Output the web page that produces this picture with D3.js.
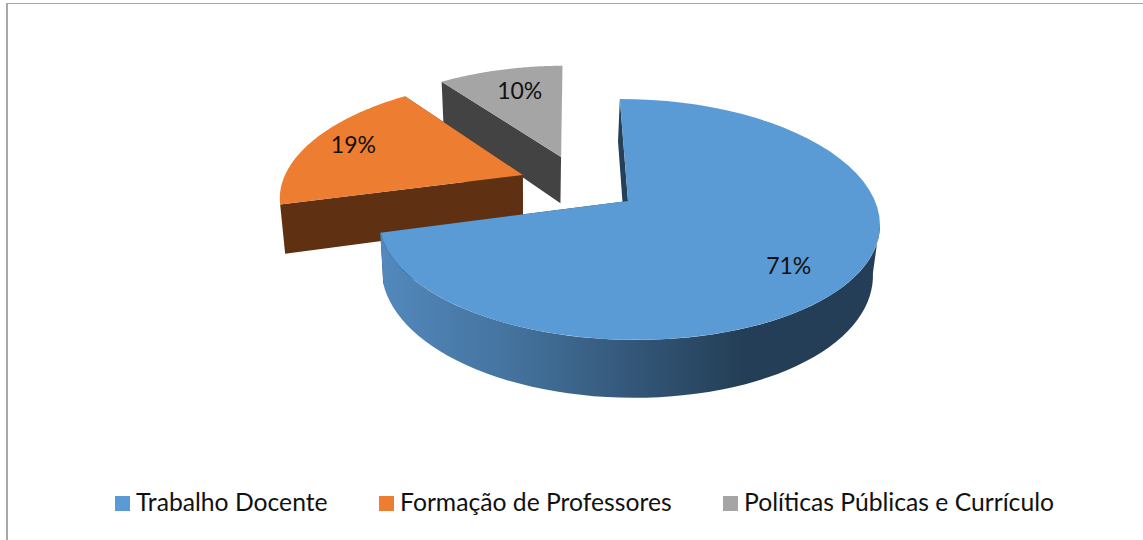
<!DOCTYPE html>
<html>
<head>
<meta charset="utf-8">
<script src="https://cdnjs.cloudflare.com/ajax/libs/d3/7.8.5/d3.min.js"></script>
<style>
  html, body { margin: 0; padding: 0; background: #fff; }
  svg { display: block; }
  text { font-family: Lato, "Open Sans", sans-serif; fill: #111; }
</style>
</head>
<body>
<svg id="chart" width="1143" height="540"></svg>
<script>
const categories = ["Trabalho Docente", "Formação de Professores", "Políticas Públicas e Currículo"];
const shares = [71, 19, 10];
const topColors = ["#5b9bd5", "#ed7d31", "#a5a5a5"];
const wallColors = ["#254058", "#5f3112", "#434343"];

const width = 1143;
const height = 540;

let svg = d3.select("svg#chart");

/* FRAME */

svg.append("rect").attr("x", 6).attr("y", 3).attr("width", 2).attr("height", height - 3).style("fill", "#a8a8a8");
svg.append("rect").attr("x", 6).attr("y", 3).attr("width", width - 6).attr("height", 1).style("fill", "#a8a8a8");

/* PIE GEOMETRY */

// perspective of the disc plane
const center = { x: 628, y: 201 };
const radiusX = 247;
const radiusY = 117.6;
const tiltX = 0.17;
const tiltY = 0.1535;
const shear = 7;
const depth = 49;
const vanishX = 530;
const shrink = 0.98;

// how far each slice is pulled out, in disc units
const pulled = [[0, 0], [-0.436, -0.229], [-0.278, -0.397]];

const startAngle = -0.01;
const pie = d3.pie().sort(null).startAngle(startAngle).endAngle(startAngle + 2 * Math.PI);
const arcs = pie(shares);

function project(u, v, z) {
  const fy = 1 / (1 - tiltY * v);
  let x = center.x + radiusX * u / (1 - tiltX * v) + shear * v * fy;
  const y = center.y + radiusY * v * fy + depth * z * fy;
  x = vanishX + (x - vanishX) * (1 - (1 - shrink) * z);
  return [x, y];
}

function rimPoint(a, i, z) {
  return project(pulled[i][0] + Math.sin(a), pulled[i][1] - Math.cos(a), z);
}

function apexPoint(i, z) {
  return project(pulled[i][0], pulled[i][1], z);
}

function rimPoints(a0, a1, i, z) {
  return d3.range(0, 61).map(k => rimPoint(a0 + (a1 - a0) * k / 60, i, z));
}

const line = d3.line();

/* GRADIENT FOR THE BLUE SIDE */

const grad = svg.append("defs").append("linearGradient")
  .attr("id", "blueSide")
  .attr("gradientUnits", "userSpaceOnUse")
  .attr("x1", 384).attr("x2", 745)
  .attr("y1", 0).attr("y2", 0);
grad.append("stop").attr("offset", 0).attr("stop-color", "#5288bc");
grad.append("stop").attr("offset", 0.35).attr("stop-color", "#44739e");
grad.append("stop").attr("offset", 0.7).attr("stop-color", "#335677");
grad.append("stop").attr("offset", 1).attr("stop-color", "#233e56");

/* SLICES, BACK TO FRONT */

const plot = svg.append("g").attr("id", "plot");

function drawSlice(i) {
  const d = arcs[i];
  const g = plot.append("g");

  // wall on the start side (seen on grey's right edge and blue's inner edge)
  g.append("path")
    .attr("d", line([rimPoint(d.startAngle, i, 0), apexPoint(i, 0), apexPoint(i, 1), rimPoint(d.startAngle, i, 1)]) + "Z")
    .style("fill", wallColors[i]);

  // wall on the end side
  g.append("path")
    .attr("d", line([rimPoint(d.endAngle, i, 0), apexPoint(i, 0), apexPoint(i, 1), rimPoint(d.endAngle, i, 1)]) + "Z")
    .style("fill", wallColors[i]);

  // outer side, only the blue slice shows it, from its rightmost point round
  if (i === 0) {
    const a0 = 1.75;
    const outer = rimPoints(a0, d.endAngle, i, 0).concat(rimPoints(a0, d.endAngle, i, 1).reverse());
    g.append("path")
      .attr("d", line(outer) + "Z")
      .style("fill", "url(#blueSide)");
  }

  // top face
  const top = [apexPoint(i, 0)].concat(rimPoints(d.startAngle, d.endAngle, i, 0));
  g.append("path")
    .attr("d", line(top) + "Z")
    .style("fill", topColors[i]);
}

drawSlice(2);
drawSlice(1);
drawSlice(0);

/* PERCENT LABELS */

// label spot on each slice, as [share along the slice, radius]
const labelSpots = [[0.515, 0.77], [0.52, 0.81], [0.55, 0.73]];

arcs.forEach((d, i) => {
  const a = d.startAngle + (d.endAngle - d.startAngle) * labelSpots[i][0];
  const r = labelSpots[i][1];
  const p = project(pulled[i][0] + r * Math.sin(a), pulled[i][1] - r * Math.cos(a), 0);
  plot.append("text")
    .attr("x", p[0])
    .attr("y", p[1])
    .attr("dy", "0.35em")
    .attr("text-anchor", "middle")
    .style("font-size", "23px")
    .text(shares[i] + "%");
});

/* LEGEND */

const legendX = d3.scaleOrdinal().domain(categories).range([115, 379, 723]);
const legend = svg.append("g").attr("id", "legend");

categories.forEach((c, i) => {
  legend.append("rect")
    .attr("x", legendX(c))
    .attr("y", 496)
    .attr("width", 15)
    .attr("height", 15)
    .style("fill", topColors[i]);
  legend.append("text")
    .attr("x", legendX(c) + 21)
    .attr("y", 511)
    .style("font-size", "24.7px")
    .text(c);
});
</script>
</body>
</html>
